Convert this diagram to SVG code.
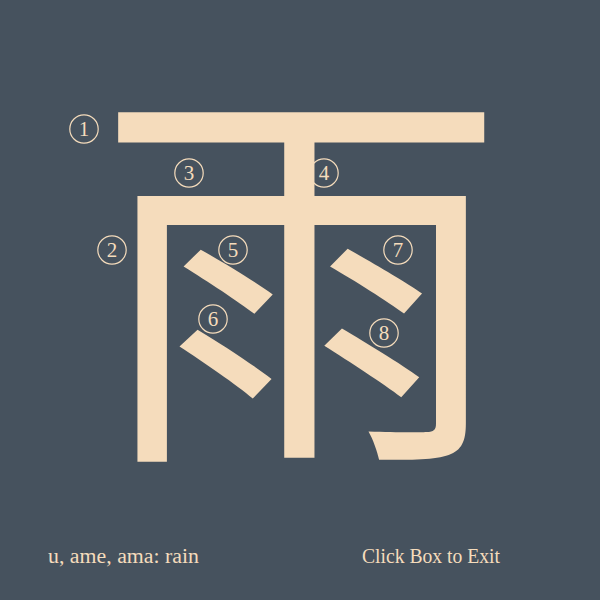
<svg xmlns="http://www.w3.org/2000/svg" width="600" height="600" viewBox="0 0 600 600">
<style>
.bg{fill:#46525e}
.kanji{font-family:"Noto Sans CJK JP","Noto Sans CJK SC",sans-serif;fill:#f5dcbc}
.ring{fill:none;stroke:#f5dcbc;stroke-width:1.2}
.num{font-family:"Liberation Serif",serif;font-size:21px;fill:#f5dcbc;text-anchor:middle}
.cap{font-family:"Liberation Serif",serif;font-size:20px;fill:#f5dcbc}
</style>
<rect class="bg" x="0" y="0" width="600" height="600"/>
<g id="character">
<text class="kanji" x="301" y="430" font-size="409" text-anchor="middle">雨</text>
</g>
<g id="n1"><circle class="ring" cx="84" cy="129" r="14.2"/><text class="num" x="84" y="136">1</text></g>
<g id="n2"><circle class="ring" cx="112" cy="250" r="14.2"/><text class="num" x="112" y="257">2</text></g>
<g id="n3"><circle class="ring" cx="189" cy="173" r="14.2"/><text class="num" x="189" y="180">3</text></g>
<g id="n4"><circle class="ring" cx="324" cy="173" r="14.2"/><text class="num" x="324" y="180">4</text></g>
<g id="n5"><circle class="ring" cx="233" cy="250" r="14.2"/><text class="num" x="233" y="257">5</text></g>
<g id="n6"><circle class="ring" cx="213" cy="319" r="14.2"/><text class="num" x="213" y="326">6</text></g>
<g id="n7"><circle class="ring" cx="398" cy="250" r="14.2"/><text class="num" x="398" y="257">7</text></g>
<g id="n8"><circle class="ring" cx="384" cy="333" r="14.2"/><text class="num" x="384" y="340">8</text></g>
<g id="captions">
<text class="cap" x="48" y="563" textLength="151" lengthAdjust="spacingAndGlyphs">u, ame, ama: rain</text>
<text class="cap" x="362" y="563" textLength="138" lengthAdjust="spacingAndGlyphs">Click Box to Exit</text>
</g>
</svg>
